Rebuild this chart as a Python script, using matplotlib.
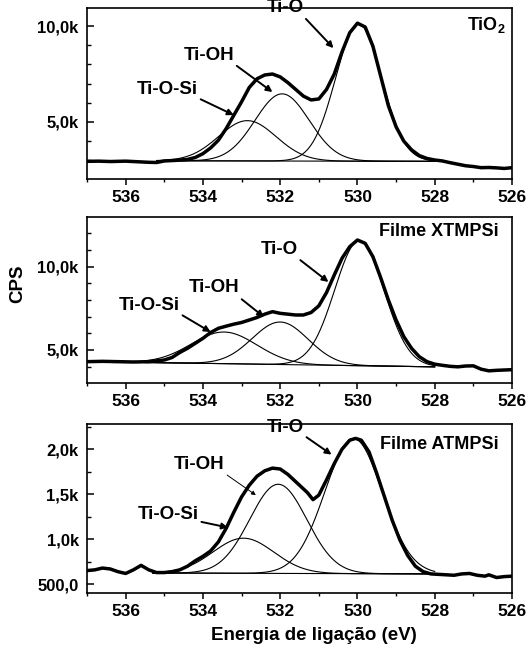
import numpy as np
import matplotlib
matplotlib.use("Agg")
import matplotlib.pyplot as plt
from matplotlib.ticker import FixedLocator, FixedFormatter, MultipleLocator

plt.rcParams['font.family'] = ['Liberation Sans', 'DejaVu Sans']
plt.rcParams['font.weight'] = 'bold'
plt.rcParams['mathtext.fontset'] = 'custom'
plt.rcParams['mathtext.rm'] = 'Liberation Sans:bold'
plt.rcParams['mathtext.bf'] = 'Liberation Sans:bold'
plt.rcParams['mathtext.it'] = 'Liberation Sans:bold'

# ---------------- data (binding energy in eV, intensity in CPS) ----------------
# Panel 1: TiO2
e1 = [537.0, 536.7, 536.4, 536.0, 535.7, 535.4, 535.2, 535.0, 534.7, 534.4, 534.2, 534.0,
      533.8, 533.6, 533.4, 533.2, 533.0, 532.8, 532.6, 532.4, 532.2, 532.0, 531.8, 531.6,
      531.4, 531.2, 531.0, 530.8, 530.6, 530.4, 530.2, 530.0, 529.8, 529.6, 529.4, 529.2,
      529.0, 528.8, 528.6, 528.4, 528.2, 528.0, 527.8, 527.6, 527.4, 527.2, 527.0, 526.8,
      526.6, 526.4, 526.2, 526.0]
cps1 = [2950, 2960, 2940, 2960, 2930, 2900, 2890, 2970, 3000, 3050, 3150, 3350,
        3650, 4050, 4650, 5350, 6050, 6800, 7250, 7450, 7500, 7350, 7050, 6700,
        6350, 6150, 6200, 6700, 7500, 8650, 9650, 10150, 9950, 8950, 7400, 5850,
        4750, 4000, 3550, 3250, 3100, 3020, 2970, 2880, 2800, 2720, 2680, 2620,
        2630, 2610, 2580, 2620]
bg1_e = [535.2, 528.0]
bg1_cps = [2980, 2950]
peaks1_center = [532.85, 531.95, 529.97]   # Ti-O-Si, Ti-OH, Ti-O
peaks1_height = [2100, 3500, 7150]
peaks1_fwhm = [1.75, 1.65, 1.40]

# Panel 2: Filme XTMPSi
e2 = [537.0, 536.6, 536.2, 535.8, 535.4, 535.0, 534.8, 534.6, 534.4, 534.2, 534.0, 533.8,
      533.6, 533.4, 533.2, 533.0, 532.8, 532.6, 532.4, 532.2, 532.0, 531.8, 531.6, 531.4,
      531.2, 531.0, 530.8, 530.6, 530.4, 530.2, 530.0, 529.8, 529.6, 529.4, 529.2, 529.0,
      528.8, 528.6, 528.4, 528.2, 528.0, 527.8, 527.6, 527.4, 527.2, 527.0, 526.8, 526.6,
      526.4, 526.2, 526.0]
cps2 = [4300, 4320, 4300, 4280, 4300, 4400, 4550, 4850, 5100, 5400, 5700, 6050,
        6300, 6430, 6550, 6650, 6800, 6950, 7150, 7300, 7200, 7150, 7100, 7100,
        7250, 7650, 8450, 9500, 10500, 11200, 11600, 11400, 10600, 9350, 8000, 6800,
        5800, 5100, 4600, 4300, 4150, 4080, 4020, 3990, 4040, 4050, 3850, 3750,
        3780, 3800, 3820]
bg2_e = [535.5, 528.0]
bg2_cps = [4250, 3990]
peaks2_center = [533.45, 532.0, 529.95]
peaks2_height = [1900, 2550, 7500]
peaks2_fwhm = [2.0, 1.7, 1.5]

# Panel 3: Filme ATMPSi
e3 = [537.0, 536.8, 536.6, 536.4, 536.2, 536.0, 535.8, 535.6, 535.4, 535.2, 535.0, 534.8,
      534.6, 534.4, 534.2, 534.0, 533.8, 533.6, 533.4, 533.2, 533.0, 532.8, 532.6, 532.4,
      532.2, 532.0, 531.8, 531.6, 531.4, 531.3, 531.15, 531.0, 530.8, 530.6, 530.4, 530.2,
      530.05, 529.9, 529.7, 529.5, 529.3, 529.1, 528.9, 528.7, 528.5, 528.3, 528.1, 527.9,
      527.7, 527.5, 527.3, 527.1, 526.9, 526.7, 526.6, 526.4, 526.2, 526.0]
cps3 = [652, 660, 680, 670, 640, 620, 660, 710, 660, 630, 630, 640,
        660, 700, 760, 810, 870, 970, 1120, 1300, 1470, 1600, 1700, 1760,
        1790, 1780, 1720, 1640, 1560, 1520, 1440, 1490, 1660, 1840, 2000, 2100,
        2120, 2100, 1970, 1730, 1470, 1210, 990, 820, 700, 640, 615, 610,
        605, 600, 615, 620, 600, 590, 605, 575, 585, 590]
bg3_e = [535.3, 528.0]
bg3_cps = [625, 615]
peaks3_center = [532.95, 532.05, 530.1]
peaks3_height = [390, 990, 1500]
peaks3_fwhm = [1.85, 1.74, 1.75]

# tick labels
yt1 = [5000, 10000]; yl1 = ['5,0k', '10,0k']
yt2 = [5000, 10000]; yl2 = ['5,0k', '10,0k']
yt3 = [500, 1000, 1500, 2000]; yl3 = ['500,0', '1,0k', '1,5k', '2,0k']
xt = [536, 534, 532, 530, 528, 526]; xl = ['536', '534', '532', '530', '528', '526']

labels = ['Ti-O-Si', 'Ti-OH', 'Ti-O']
# annotation text position (eV, CPS) and arrow tip (eV, CPS), order Ti-O-Si, Ti-OH, Ti-O
ann1_text = [(534.92, 6670), (533.85, 8490), (531.87, 10960)]
ann1_tip = [(533.2, 5360), (532.2, 6560), (530.62, 8850)]
ann2_text = [(535.39, 7700), (533.72, 8720), (532.03, 11000)]
ann2_tip = [(533.8, 6080), (532.42, 6980), (530.75, 9080)]
ann3_text = [(534.9, 1270), (534.1, 1830), (531.87, 2240)]
ann3_tip = [(533.35, 1130), (532.63, 1490), (530.67, 1940)]

titles = [r'TiO$_2$', 'Filme XTMPSi', 'Filme ATMPSi']
title_x = [0.985, 0.968, 0.968]
title_y = [0.90, 0.913, 0.876]

# ---------------- figure ----------------
fig = plt.figure(figsize=(5.32, 6.62), dpi=100)
L, W = 87 / 532, (512 - 87) / 532
rects = [(L, 1 - 179 / 662, W, 171 / 662),
         (L, 1 - 383 / 662, W, 166 / 662),
         (L, 1 - 593 / 662, W, 169 / 662)]
ylims = [(2030, 10940), (3020, 12980), (403, 2280)]
yminor = [1000, 1000, 250]

panels = [
    (e1, cps1, bg1_e, bg1_cps, peaks1_center, peaks1_height, peaks1_fwhm, yt1, yl1, ann1_text, ann1_tip),
    (e2, cps2, bg2_e, bg2_cps, peaks2_center, peaks2_height, peaks2_fwhm, yt2, yl2, ann2_text, ann2_tip),
    (e3, cps3, bg3_e, bg3_cps, peaks3_center, peaks3_height, peaks3_fwhm, yt3, yl3, ann3_text, ann3_tip),
]

for i, (e, c, be, bc, pc, ph, pw, yt, yl, at, ap) in enumerate(panels):
    ax = fig.add_axes(rects[i])
    # fitted components over the fit range
    xe = np.linspace(be[0], be[1], 400)
    bg = np.interp(xe, be[::-1], bc[::-1])
    ax.plot(xe, bg, color='black', lw=0.8)
    for cen, h, fw in zip(pc, ph, pw):
        s = fw / 2.3548
        ax.plot(xe, bg + h * np.exp(-0.5 * ((xe - cen) / s) ** 2), color='black', lw=0.8)
    # measured envelope
    ax.plot(e, c, color='black', lw=2.5, solid_joinstyle='round')

    ax.set_xlim(537, 526)
    ax.set_ylim(*ylims[i])
    ax.xaxis.set_major_locator(FixedLocator(xt))
    ax.xaxis.set_major_formatter(FixedFormatter(xl))
    ax.xaxis.set_minor_locator(MultipleLocator(1))
    ax.yaxis.set_major_locator(FixedLocator(yt))
    ax.yaxis.set_major_formatter(FixedFormatter(yl))
    ax.yaxis.set_minor_locator(MultipleLocator(yminor[i]))
    ax.tick_params(axis='x', which='major', direction='out', length=4, width=1.1, labelsize=12.5, pad=4)
    ax.tick_params(axis='x', which='minor', direction='out', length=2.2, width=1.0)
    ax.tick_params(axis='y', which='major', direction='in', length=5, width=1.1, labelsize=12, pad=6)
    ax.tick_params(axis='y', which='minor', direction='in', length=3, width=1.0)
    for lab in ax.get_xticklabels() + ax.get_yticklabels():
        lab.set_fontweight('bold')
    for sp in ax.spines.values():
        sp.set_linewidth(1.2)

    for lbl, (tx, ty), (px, py) in zip(labels, at, ap):
        thin = (i == 2 and lbl == 'Ti-OH')
        ax.annotate(lbl, xy=(px, py), xytext=(tx, ty), ha='center', va='center',
                    fontsize=13.5, fontweight='bold', annotation_clip=False,
                    arrowprops=dict(arrowstyle='-|>', color='black',
                                    lw=0.7 if thin else 1.4,
                                    mutation_scale=6 if thin else 9,
                                    shrinkA=0, shrinkB=0,
                                    relpos=(0.9, 0.2)))
    ax.text(title_x[i], title_y[i], titles[i], transform=ax.transAxes, ha='right', va='center',
            fontsize=13, fontweight='bold')

fig.text(18 / 532, 1 - 284 / 662, 'CPS', rotation=90, ha='center', va='center',
         fontsize=13.5, fontweight='bold')
fig.text(314 / 532, 1 - 635 / 662, 'Energia de ligação (eV)', ha='center', va='center',
         fontsize=13.5, fontweight='bold')

fig.savefig('out.png', dpi=100)
